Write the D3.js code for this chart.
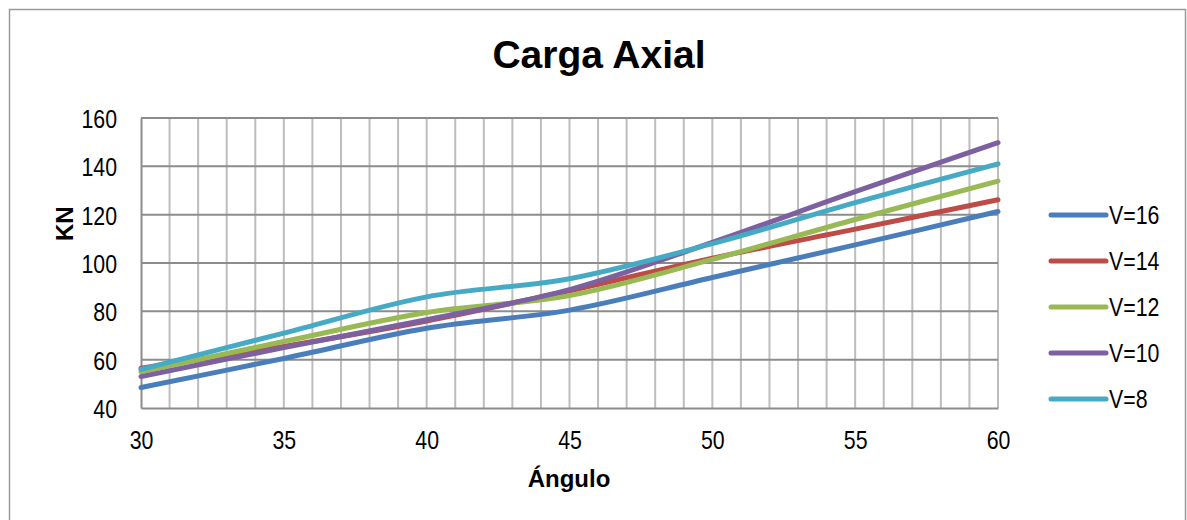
<!DOCTYPE html>
<html>
<head>
<meta charset="utf-8">
<script src="https://cdn.jsdelivr.net/npm/d3@7"></script>
<style>
  body { margin: 0; background: #fff; }
  .tick text { font-family: "Liberation Sans", Arial, sans-serif; font-size: 26px; fill: #000;
    transform-box: fill-box; transform: scaleX(0.82); }
  .y-axis .tick text { transform-origin: right center; }
  .x-axis .tick text { transform-origin: center center; }
  .axis_title { font-family: "Liberation Sans", Arial, sans-serif; font-weight: bold; font-size: 24px;
    transform-box: fill-box; }
  .title { font-family: "Liberation Sans", Arial, sans-serif; font-weight: bold; font-size: 39px; }
  .legend text { font-family: "Liberation Sans", Arial, sans-serif; font-size: 26px;
    transform-box: fill-box; transform-origin: left center; transform: scaleX(0.82); }
</style>
</head>
<body>
<svg id="chart"></svg>
<script>
// data
var angles = [30, 35, 40, 45, 50, 55, 60];
var v16 = [48.5, 60.5, 73, 80.5, 94, 107.5, 121.3];
var v14 = [56.5, 65.5, 76, 88.5, 102, 114, 126.2];
var v12 = [55, 67.5, 79.5, 86.5, 101.5, 118, 133.9];
var v10 = [53, 65, 76.5, 89, 108.5, 129.5, 149.8];
var v8  = [56, 71, 86, 93.5, 108, 125, 141];
var seriesNames = ["V=16", "V=14", "V=12", "V=10", "V=8"];
var colors = ["#4a7ebb", "#be4b48", "#98b954", "#7d60a0", "#46aac5"];
var xTicks = [30, 35, 40, 45, 50, 55, 60];
var yTicks = [40, 60, 80, 100, 120, 140, 160];

var series = [v16, v14, v12, v10, v8].map(function(vals, i) {
  return { name: seriesNames[i], color: colors[i], values: vals.map(function(v, j) { return {a: angles[j], v: v}; }) };
});

var margin = {top: 118, right: 189, bottom: 112, left: 141},
    width = 998 - margin.left,
    height = 408 - margin.top;

var root = d3.select("#chart")
  .attr("width", 1187)
  .attr("height", 520);

// outer frame
root.append("rect")
  .attr("x", 9.5).attr("y", 9.5)
  .attr("width", 1176).attr("height", 540)
  .attr("fill", "none")
  .attr("stroke", "#9a9a9a")
  .attr("stroke-width", 1.5);

var svg = root.append("g")
  .attr("transform", "translate(" + margin.left + "," + margin.top + ")");

var x = d3.scaleLinear().domain([30, 60]).range([0, width]);
var y = d3.scaleLinear().domain([40, 160]).range([height, 0]);

// vertical grid, every degree
svg.append("g")
  .selectAll("line")
  .data(d3.range(31, 61))
  .enter().append("line")
    .attr("x1", d => x(d)).attr("x2", d => x(d))
    .attr("y1", 0).attr("y2", height)
    .attr("stroke", "#bdbdbd")
    .attr("stroke-width", 2);

// horizontal grid
svg.append("g")
  .selectAll("line")
  .data(yTicks.slice(1))
  .enter().append("line")
    .attr("x1", 0).attr("x2", width)
    .attr("y1", d => y(d)).attr("y2", d => y(d))
    .attr("stroke", "#8c8c8c")
    .attr("stroke-width", 2);

// axes
var xAxis = svg.append("g")
  .attr("class", "x-axis")
  .attr("transform", "translate(0," + height + ")")
  .call(d3.axisBottom(x).tickValues(xTicks).tickSize(0).tickPadding(23));
xAxis.select(".domain").attr("stroke", "#8c8c8c").attr("stroke-width", 2);

var yAxis = svg.append("g")
  .attr("class", "y-axis")
  .call(d3.axisLeft(y).tickValues(yTicks).tickSize(0).tickPadding(24));
yAxis.select(".domain").attr("stroke", "#8c8c8c").attr("stroke-width", 2);
yAxis.selectAll(".tick text").attr("dy", "0.36em");

// lines
var line = d3.line()
  .x(d => x(d.a))
  .y(d => y(d.v))
  .curve(d3.curveCardinal.tension(0));

svg.selectAll(".series")
  .data(series)
  .enter().append("path")
    .attr("class", "series")
    .attr("d", d => line(d.values))
    .attr("fill", "none")
    .attr("stroke", d => d.color)
    .attr("stroke-width", 5)
    .attr("stroke-linecap", "round");

// titles
root.append("text")
  .attr("class", "title")
  .attr("text-anchor", "middle")
  .attr("x", 599)
  .attr("y", 68)
  .text("Carga Axial");

root.append("text")
  .attr("class", "axis_title")
  .attr("text-anchor", "middle")
  .attr("x", 569)
  .attr("y", 487)
  .text("Ángulo");

root.append("text")
  .attr("class", "axis_title")
  .attr("text-anchor", "middle")
  .attr("transform", "translate(68,263)rotate(-90)")
  .text("KN");

// legend
var legend = root.append("g").attr("class", "legend")
  .selectAll("g")
  .data(series)
  .enter().append("g")
    .attr("transform", (d, i) => "translate(1051," + (215 + i * 46) + ")");
legend.append("line")
  .attr("x1", 0).attr("x2", 55)
  .attr("stroke", d => d.color)
  .attr("stroke-width", 5)
  .attr("stroke-linecap", "round");
legend.append("text")
  .attr("x", 58)
  .attr("dy", "0.36em")
  .text(d => d.name);
</script>
</body>
</html>
